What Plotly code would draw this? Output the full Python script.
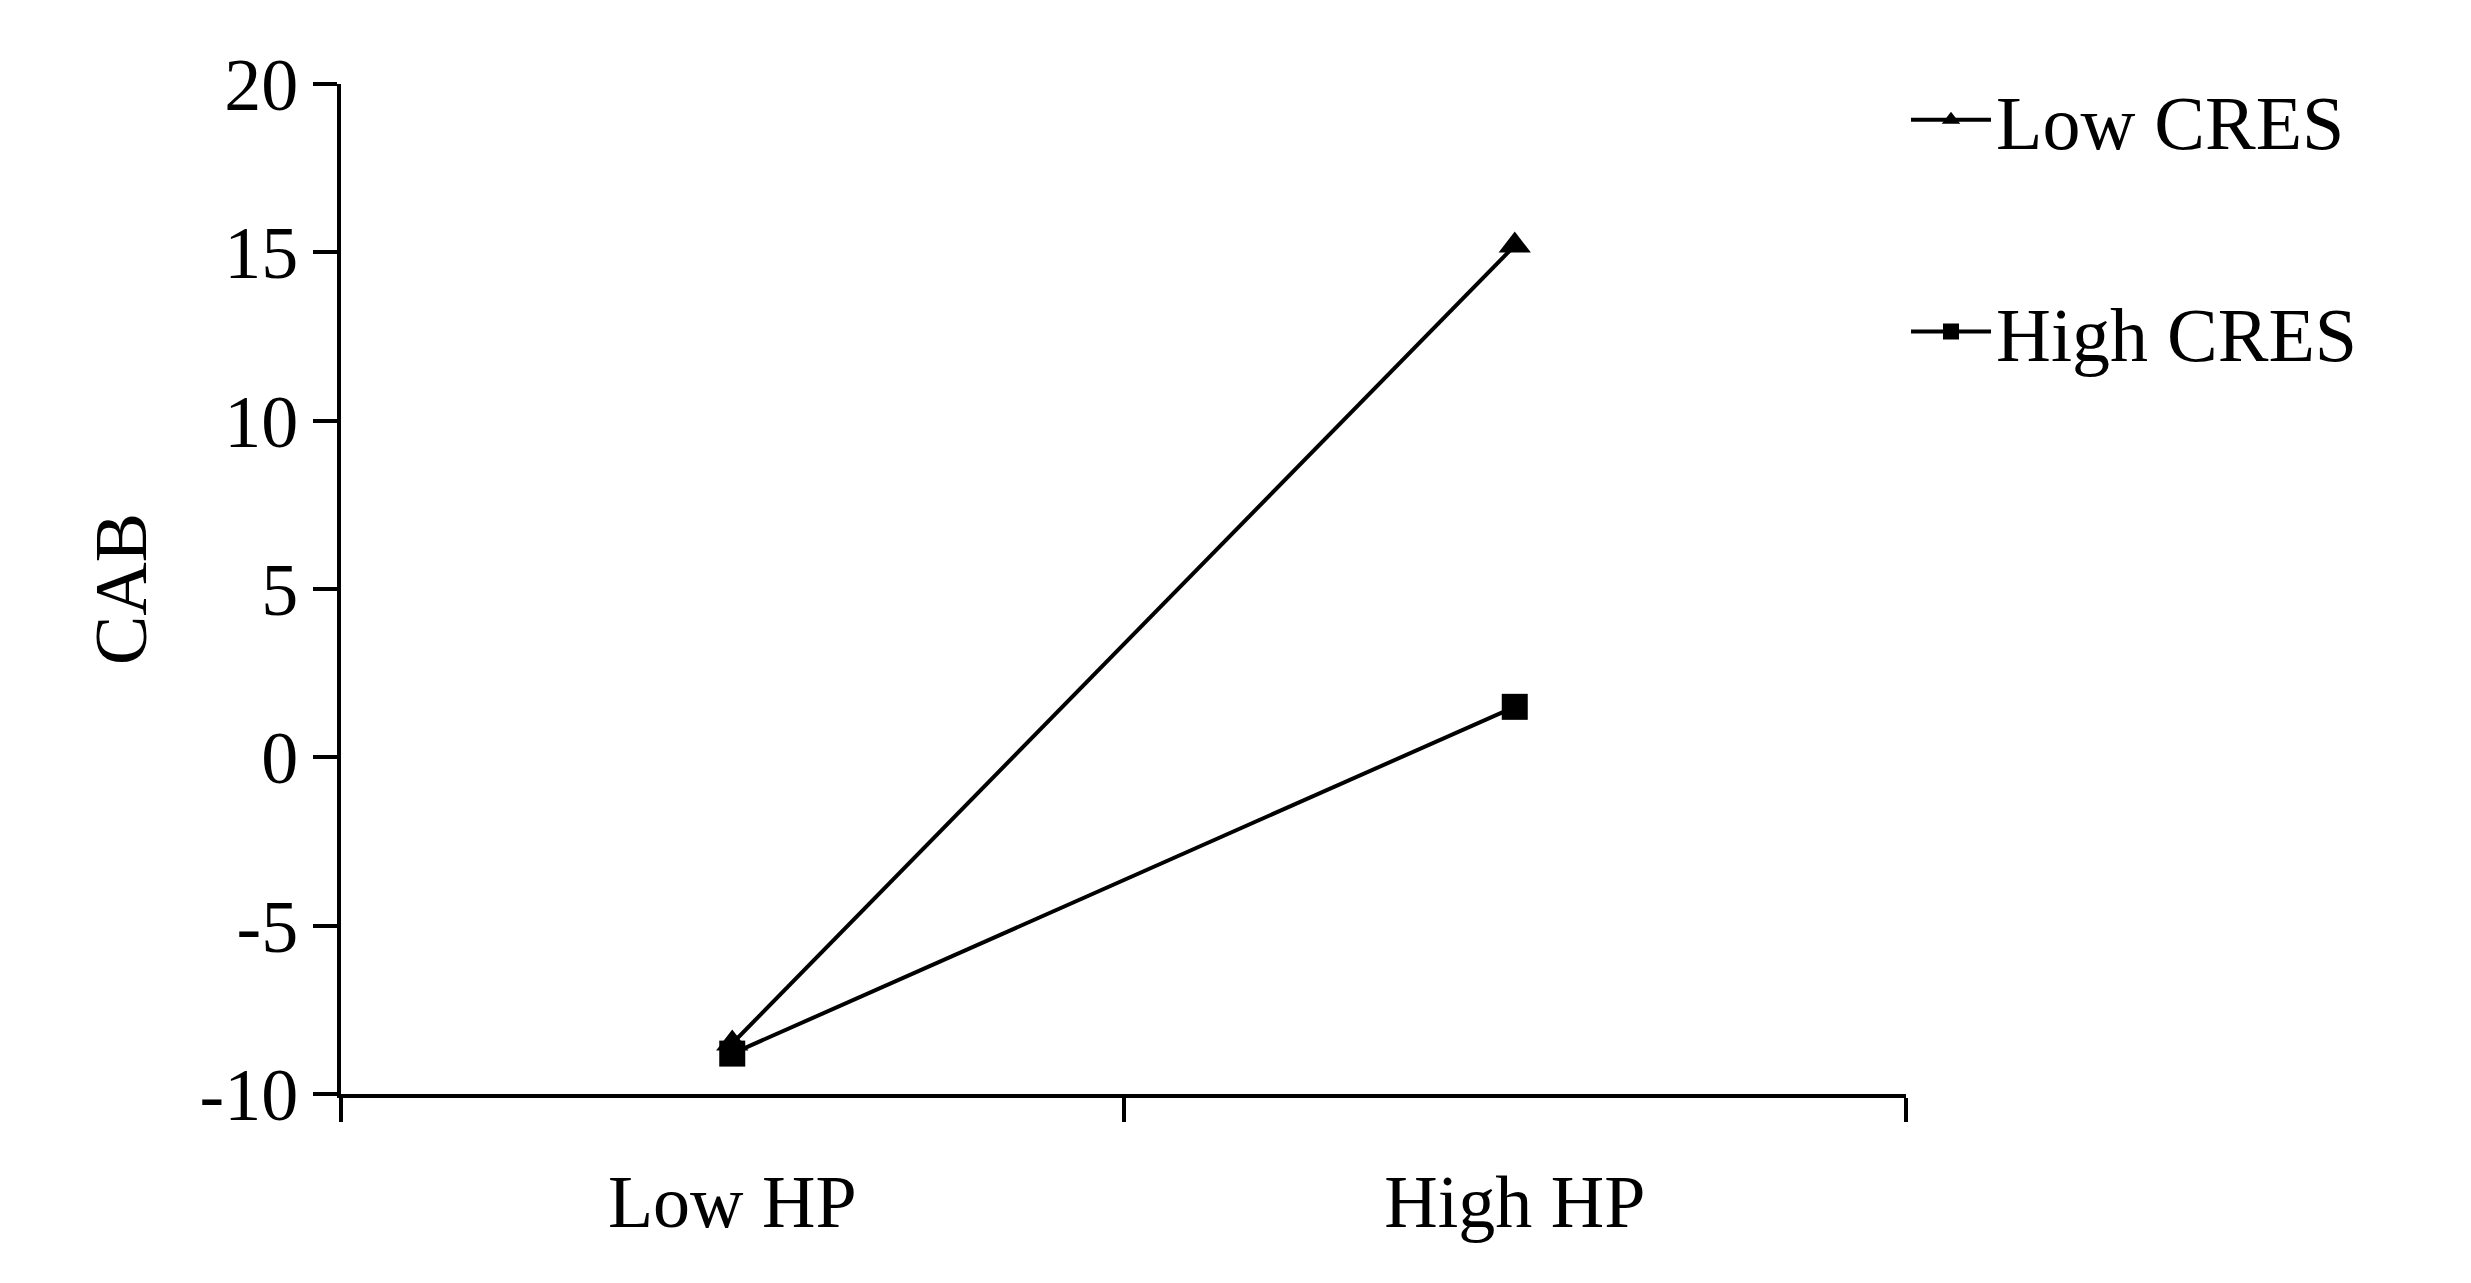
import plotly.graph_objects as go

categories = ["Low HP", "High HP"]
x_pos = [0.5, 1.5]
low_cres = [-8.5, 15.2]
high_cres = [-8.8, 1.5]
y_ticks = [-10, -5, 0, 5, 10, 15, 20]
y_labels = ["-10", "-5", "0", "5", "10", "15", "20"]

FONT = "Liberation Serif"

fig = go.Figure()
fig.add_trace(go.Scatter(
    x=x_pos, y=low_cres, name="Low CRES", mode="lines+markers",
    line=dict(color="black", width=4),
    marker=dict(symbol="triangle-up", size=28, color="black"),
    legendgroup="a",
))
fig.add_trace(go.Scatter(
    x=x_pos, y=high_cres, name="High CRES", mode="lines+markers",
    line=dict(color="black", width=4),
    marker=dict(symbol="square", size=26, color="black"),
    legendgroup="b",
))

fig.update_xaxes(
    range=[0, 2], tickvals=x_pos, ticktext=categories, ticks="",
    minor=dict(ticks="outside", tick0=0, dtick=1, ticklen=24, tickwidth=4, tickcolor="black"),
    showline=True, linecolor="black", linewidth=4, showgrid=False, zeroline=False,
    tickfont=dict(size=74), ticklabelstandoff=40,
)
fig.update_yaxes(
    range=[-10, 20], tickvals=y_ticks, ticktext=y_labels,
    ticks="outside", ticklen=24, tickwidth=4, tickcolor="black",
    showline=True, linecolor="black", linewidth=4, showgrid=False, zeroline=False,
    tickfont=dict(size=74), title=dict(text="CAB", font=dict(size=74), standoff=30),
)
fig.update_layout(
    width=2471, height=1283,
    margin=dict(l=333, r=573, t=76, b=197),
    paper_bgcolor="white", plot_bgcolor="white",
    font=dict(family=FONT, color="black", size=74),
    legend=dict(x=1.0, y=1.02, xanchor="left", yanchor="top", tracegroupgap=110,
                font=dict(size=76), itemwidth=80),
)
fig.write_html("out.html")
